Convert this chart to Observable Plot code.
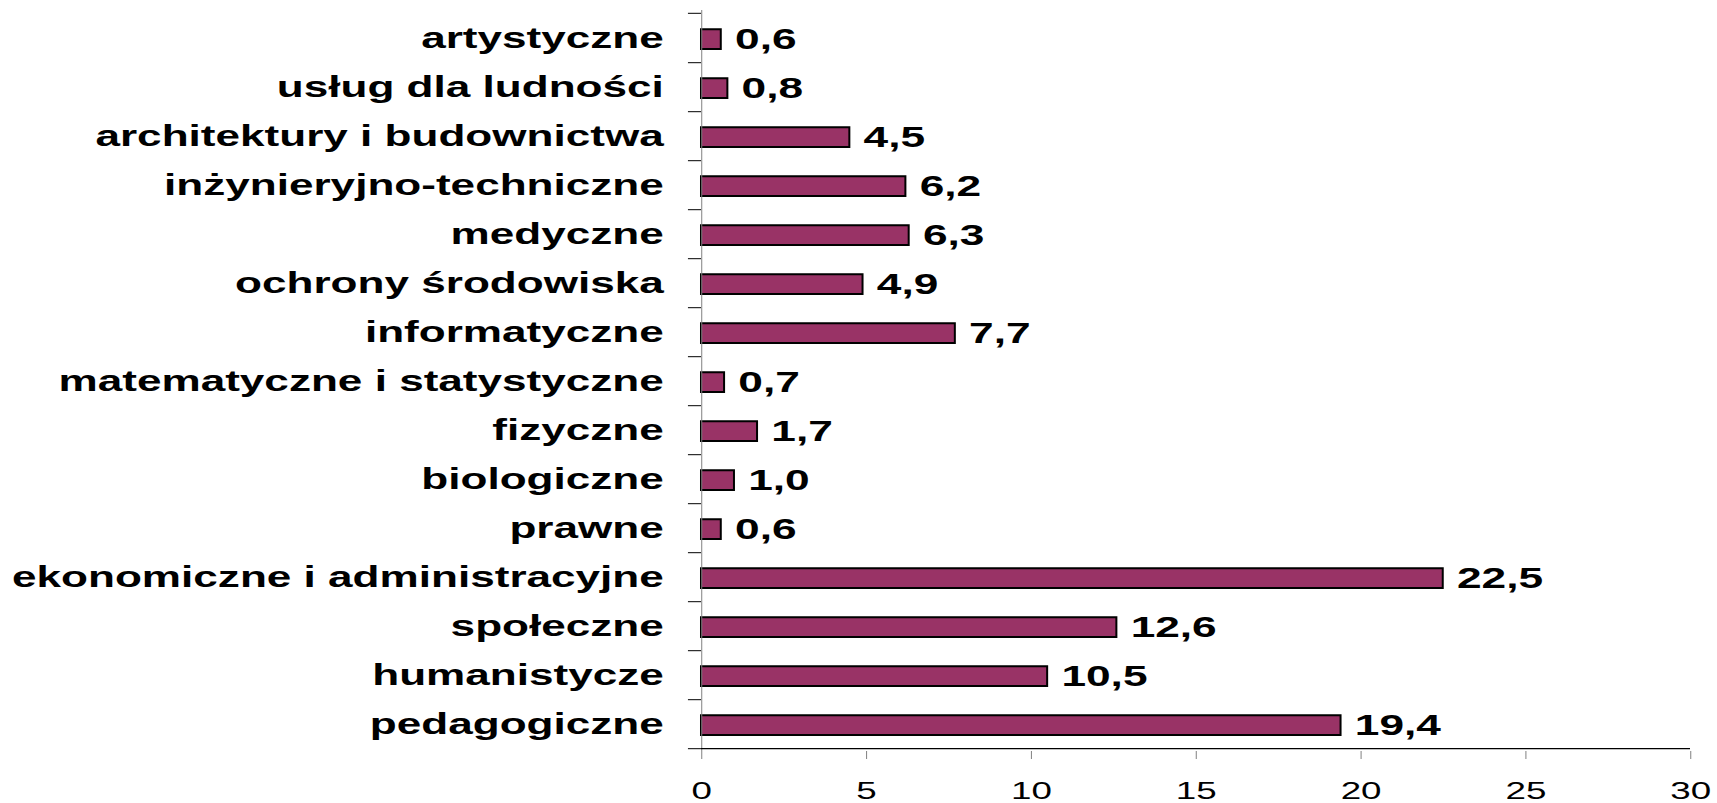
<!DOCTYPE html>
<html>
<head>
<meta charset="utf-8">
<script src="https://cdn.jsdelivr.net/npm/d3@7"></script>
<script src="https://cdn.jsdelivr.net/npm/@observablehq/plot@0.6"></script>
<style>
  html, body { margin: 0; padding: 0; background: #fff; }
  #chart svg * { vector-effect: non-scaling-stroke; }
</style>
</head>
<body>
<div id="chart"></div>
<script>
const categories = [
  "artystyczne",
  "usług dla ludności",
  "architektury i budownictwa",
  "inżynieryjno-techniczne",
  "medyczne",
  "ochrony środowiska",
  "informatyczne",
  "matematyczne i statystyczne",
  "fizyczne",
  "biologiczne",
  "prawne",
  "ekonomiczne i administracyjne",
  "społeczne",
  "humanistycze",
  "pedagogiczne"
];
const values = [0.6, 0.8, 4.5, 6.2, 6.3, 4.9, 7.7, 0.7, 1.7, 1.0, 0.6, 22.5, 12.6, 10.5, 19.4];
const xTicks = [0, 5, 10, 15, 20, 25, 30];

const data = categories.map((c, i) => ({cat: c, value: values[i]}));
const fmt = v => v.toFixed(1).replace(".", ",");

// the original is horizontally stretched; draw in a narrower space and stretch
const S = 1.5;
const W = 1717 / S, H = 803;
const mTop = 10, mBottom = 52, mLeft = 701 / S, mRight = W - 1690 / S;
const step = (H - mTop - mBottom) / categories.length;

const chart = Plot.plot({
  width: W,
  height: H,
  marginTop: mTop,
  marginBottom: mBottom,
  marginLeft: mLeft,
  marginRight: mRight,
  style: {fontFamily: "'Liberation Sans', Arial, sans-serif", color: "#000", background: "#fff"},
  x: {domain: [0, 30]},
  y: {domain: categories, padding: 0},
  marks: [
    Plot.barX(data, {x: "value", y: "cat", fill: "#993366", stroke: "#000", strokeWidth: 2, insetTop: 16.2, insetBottom: 13}),
    Plot.ruleX([0], {stroke: "#808080", strokeWidth: 1}),
    Plot.axisX({ticks: xTicks, tickSize: 8, tickPadding: 22, stroke: "#808080", fontSize: 24.5, fill: "#000", label: null}),
    Plot.ruleY([0], {y: () => categories[categories.length - 1], dy: step / 2, stroke: "#000", strokeWidth: 1.2}),
    Plot.axisY({tickSize: 8.7, tickFormat: () => "", dy: step / 2, stroke: "#000", label: null}),
    Plot.axisY({ticks: [categories[0]], tickSize: 8.7, tickFormat: () => "", dy: -step / 2, stroke: "#000", label: null}),
    Plot.axisY({tickSize: 0, tickPadding: 25.3, fontSize: 29.4, fontWeight: "bold", fill: "#000", dy: 1, label: null}),
    Plot.text(data, {x: "value", y: "cat", text: d => fmt(d.value), textAnchor: "start", dx: 9, dy: 2, fontSize: 29.5, fontWeight: "bold", fill: "#000"})
  ]
});

chart.setAttribute("width", 1717);
chart.setAttribute("height", 803);
chart.setAttribute("viewBox", `0 0 ${W} ${H}`);
chart.setAttribute("preserveAspectRatio", "none");
chart.style.width = "1717px";
chart.style.height = "803px";
chart.style.maxWidth = "none";
document.getElementById("chart").appendChild(chart);
</script>
</body>
</html>
